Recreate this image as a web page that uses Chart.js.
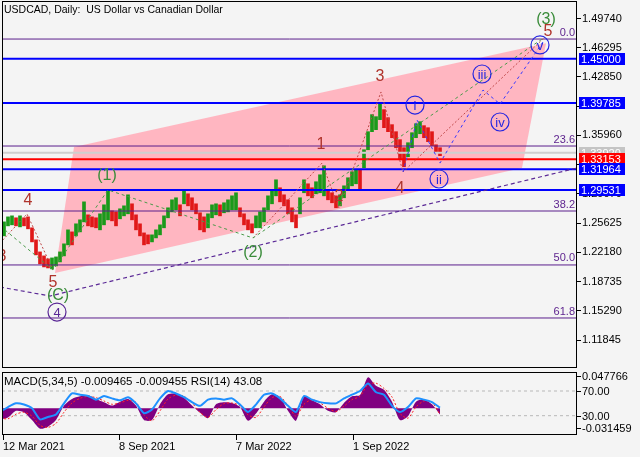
<!DOCTYPE html>
<html>
<head>
<meta charset="utf-8">
<script src="https://cdn.jsdelivr.net/npm/chart.js@4.4.1/dist/chart.umd.min.js"></script>
<style>
  html, body { margin: 0; padding: 0; background: #f4f4f4; }
  #wrap { position: relative; width: 640px; height: 457px; overflow: hidden; }
  canvas { position: absolute; left: 0; }
  #main { top: 0; }
  #osc { top: 370px; }
</style>
</head>
<body>
<div id="wrap">
  <canvas id="main" width="640" height="369"></canvas>
  <canvas id="osc" width="640" height="87"></canvas>
</div>
<script>
const FONT = '"Liberation Sans", Arial, sans-serif';

// ---- data ----
const chartTitle = 'USDCAD, Daily:  US Dollar vs Canadian Dollar';
const oscTitle = 'MACD(5,34,5) -0.009465 -0.009455 RSI(14) 43.08';

const dateLabels = ['12 Mar 2021', '8 Sep 2021', '7 Mar 2022', '1 Sep 2022'];
const dateTicks = [0.75, 29.75, 59, 88.25];
const priceTicks = [1.49740, 1.46295, 1.42850, 1.39405, 1.35960, 1.32515,
                    1.29070, 1.25625, 1.22180, 1.18735, 1.15290, 1.11845];

// price range of each ~4 day group
const highs = [1.2530,1.2577,1.2636,1.2648,1.2625,1.2648,1.2625,1.2636,1.2507,1.2365,
  1.2223,1.2176,1.2141,1.2152,1.2164,1.2223,1.2318,1.2483,1.2459,1.2554,
  1.2601,1.2813,1.2660,1.2636,1.2625,1.2672,1.2778,1.2955,1.2707,1.2695,
  1.2731,1.2766,1.2896,1.2790,1.2660,1.2554,1.2447,1.2424,1.2424,1.2483,
  1.2542,1.2648,1.2743,1.2837,1.2861,1.2778,1.2955,1.2908,1.2861,1.2790,
  1.2684,1.2636,1.2672,1.2778,1.2790,1.2778,1.2802,1.2837,1.2884,1.2920,
  1.2743,1.2672,1.2601,1.2554,1.2648,1.2695,1.2743,1.2884,1.2955,1.3073,
  1.2979,1.2896,1.2837,1.2743,1.2660,1.2861,1.3073,1.3026,1.2979,1.3050,
  1.3132,1.3238,1.2955,1.2920,1.2884,1.2896,1.3002,1.3097,1.3168,1.3191,
  1.3191,1.3427,1.3640,1.3841,1.3817,1.3978,1.3900,1.3805,1.3723,1.3640,
  1.3546,1.3451,1.3510,1.3628,1.3734,1.3758,1.3711,1.3687,1.3640,1.3486,
  1.3451];
const lows = [1.2365,1.2412,1.2530,1.2542,1.2530,1.2518,1.2530,1.2495,1.2341,1.2188,
  1.2082,1.2046,1.2034,1.2023,1.2058,1.2105,1.2176,1.2306,1.2306,1.2412,
  1.2459,1.2577,1.2530,1.2518,1.2507,1.2483,1.2542,1.2601,1.2589,1.2530,
  1.2613,1.2648,1.2672,1.2601,1.2483,1.2412,1.2306,1.2318,1.2341,1.2388,
  1.2424,1.2507,1.2625,1.2695,1.2719,1.2648,1.2790,1.2766,1.2719,1.2672,
  1.2483,1.2459,1.2507,1.2625,1.2660,1.2648,1.2684,1.2695,1.2719,1.2719,
  1.2636,1.2542,1.2483,1.2447,1.2507,1.2507,1.2577,1.2719,1.2790,1.2884,
  1.2813,1.2766,1.2672,1.2577,1.2507,1.2672,1.2920,1.2884,1.2861,1.2908,
  1.2920,1.2884,1.2837,1.2802,1.2743,1.2766,1.2861,1.2955,1.3002,1.3026,
  1.2955,1.3215,1.3427,1.3640,1.3664,1.3782,1.3687,1.3640,1.3569,1.3451,
  1.3309,1.3227,1.3345,1.3451,1.3569,1.3616,1.3569,1.3522,1.3475,1.3392,
  1.3357];

// oscillator, one value every ~8 days
const macd = [-0.017,-0.014,-0.004,-0.006,-0.018,-0.031,-0.028,-0.018,0.004,0.014,
  0.018,0.020,0.014,0.009,0.004,0.010,0.014,0.004,-0.018,-0.018,
  0.006,0.021,0.022,0.016,0.004,-0.007,-0.015,0.006,0.009,0.008,
  0.002,-0.019,-0.008,0.010,0.021,0.017,-0.004,-0.019,0.018,0.012,
  0.006,-0.004,-0.006,0.008,0.018,0.020,0.047,0.034,0.028,0.010,
  -0.018,-0.012,0.010,0.013,0.006,-0.0095];
const signal = [-0.015,-0.016,-0.009,-0.006,-0.012,-0.026,-0.029,-0.023,-0.006,0.008,
  0.015,0.018,0.016,0.011,0.006,0.008,0.012,0.009,-0.010,-0.019,
  -0.004,0.014,0.020,0.018,0.008,-0.006,-0.014,-0.002,0.007,0.008,
  0.004,-0.010,-0.014,0.002,0.016,0.018,0.004,-0.012,0.006,0.013,
  0.008,0.000,-0.005,0.003,0.013,0.018,0.036,0.038,0.030,0.017,
  -0.008,-0.015,0.002,0.011,0.009,-0.0095];
const rsi = [36,44,50,48,42,24,28,32,50,66,
  64,62,56,62,58,55,60,50,34,40,
  58,70,66,60,52,46,56,58,56,58,
  48,36,48,64,66,58,46,36,62,56,
  52,50,50,58,64,70,82,68,64,46,
  36,44,58,56,52,43];
const rsiLevels = [70, 30];
const macdTicks = [0.047766, -0.031459];

// horizontal levels
const fibValues = [1.4732, 1.3471, 1.2705, 1.2069, 1.1444];
const fibNames = ['0.0', '23.6', '38.2', '50.0', '61.8'];
const blueLevels = [1.45000, 1.39785, 1.31964, 1.29531];
const grayLevel = 1.33920;
const bidLevel = 1.33153;

// channel and wave paths (x in 4-day groups, y in price)
const channelX = [18.5, 136.5, 130.5, 13.75, 18.5];
const channelY = [1.3458, 1.4683, 1.3211, 1.1974, 1.3458];
const primaryX = [1.25, 13.25, 27, 63.25, 136.25];
const primaryY = [1.2481, 1.2010, 1.2953, 1.2387, 1.4756];
const minorAX = [0, 6.75, 13.25];
const minorAY = [1.2328, 1.2670, 1.2010];
const minorBX = [63.25, 80.5, 84.75, 95.25, 100.75, 136.25];
const minorBY = [1.2387, 1.3270, 1.2740, 1.4108, 1.3165, 1.4756];
const subX = [100.75, 104.25, 110, 120.75, 125, 135.75];
const subY = [1.3165, 1.3778, 1.3270, 1.4131, 1.3966, 1.4697];
const trendX = [0, 12.5, 144.25];
const trendY = [1.1809, 1.1703, 1.3212];

const waveText = ['(3)', '5', 'v', '3', 'i', 'iii', 'iv', 'ii', '1', '4', '2',
                  '(1)', '4', '3', '5', '(C)', '4', '(2)'];
const waveX = [136.5, 137, 135, 95, 103.75, 120.5, 125, 109.75, 80.25, 100, 84.75,
               26.75, 7, 0.5, 13.25, 14.5, 14.25, 63.25];
const waveY = [1.4956, 1.4815, 1.4662, 1.4285, 1.3954, 1.4320, 1.3754, 1.3082, 1.3483, 1.2964, 1.2870,
               1.3118, 1.2823, 1.2163, 1.1856, 1.1703, 1.1514, 1.2210];
const waveKind = ['primary', 'minor', 'sub', 'minor', 'sub', 'sub', 'sub', 'sub', 'minor', 'minor', 'minor',
                  'primary', 'minor', 'minor', 'minor', 'primary', 'cycle', 'primary'];

// ---- styles ----
const X_MIN = 0.5, X_MAX = 144.25;
const GREEN = '#1a9a1a', RED = '#e01818', BLUE = '#0000ff', PURPLE = '#5a1e8c';
const waveColors = { primary: '#3a8c3a', minor: '#b0342c', sub: '#2626e0', cycle: '#5a2896' };

function path(xs, ys, color, width, dash, order) {
  return {
    type: 'line',
    data: xs.map((x, i) => ({ x: x, y: ys[i] })),
    borderColor: color, borderWidth: width, borderDash: dash,
    pointRadius: 0, fill: false, tension: 0, order: order
  };
}

// no label padding: keeps the plot area on the exact pixel frame
function fixWidth(s) {
  s.width = 63;
  s.paddingTop = 0;
  s.paddingBottom = 0;
}

const candleColors = highs.map((h, i) => {
  if (i === 0) return RED;
  return (h + lows[i]) >= (highs[i - 1] + lows[i - 1]) ? GREEN : RED;
});

const mainSets = [
  {
    type: 'line',
    data: channelX.map((x, i) => ({ x: x, y: channelY[i] })),
    borderWidth: 0, pointRadius: 0, fill: 'shape',
    backgroundColor: '#ffb6c1', order: 20
  },
  {
    type: 'bar',
    data: highs.map((h, i) => ({ x: i, y: [lows[i], h] })),
    backgroundColor: candleColors, barThickness: 3, order: 10
  }
];
fibValues.forEach(v => mainSets.push(path([X_MIN, X_MAX], [v, v], PURPLE, 1, [], 8)));
mainSets.push(path([X_MIN, X_MAX], [grayLevel, grayLevel], '#cfcfcf', 2, [], 8));
mainSets.push(path([X_MIN, X_MAX], [bidLevel, bidLevel], '#ff0000', 2, [], 7));
blueLevels.forEach(v => mainSets.push(path([X_MIN, X_MAX], [v, v], BLUE, 2, [], 7)));
mainSets.push(path(trendX, trendY, '#5a2896', 1.2, [4, 3], 5));
mainSets.push(path(primaryX, primaryY, '#4a9a4a', 1, [3, 3], 4));
mainSets.push(path(minorAX, minorAY, '#c04a4a', 1, [2, 2], 4));
mainSets.push(path(minorBX, minorBY, '#c04a4a', 1, [2, 2], 4));
mainSets.push(path(subX, subY, '#3a3aff', 1, [3, 3], 3));

function drawFrame(chart) {
  const a = chart.chartArea, ctx = chart.ctx;
  ctx.save();
  ctx.strokeStyle = '#000';
  ctx.lineWidth = 1;
  ctx.strokeRect(a.left + 0.5, a.top + 0.5, a.right - a.left - 1, a.bottom - a.top - 1);
  ctx.restore();
}

const mainOverlay = {
  id: 'mainOverlay',
  afterDatasetsDraw(chart) {
    const { ctx, chartArea: a } = chart;
    const y = chart.scales.y, x = chart.scales.x;
    ctx.save();
    ctx.beginPath();
    ctx.rect(a.left, a.top, a.right - a.left, a.bottom - a.top);
    ctx.clip();
    ctx.font = '11px ' + FONT;
    ctx.fillStyle = PURPLE;
    ctx.textAlign = 'right';
    ctx.textBaseline = 'bottom';
    fibValues.forEach((v, i) => ctx.fillText(fibNames[i], a.right - 2, y.getPixelForValue(v) - 1));

    ctx.textAlign = 'center';
    ctx.textBaseline = 'middle';
    waveText.forEach((t, i) => {
      const px = x.getPixelForValue(waveX[i]);
      const py = y.getPixelForValue(waveY[i]);
      const kind = waveKind[i];
      const col = waveColors[kind];
      if (kind === 'sub' || kind === 'cycle') {
        ctx.font = '13px ' + FONT;
        const r = Math.max(9, ctx.measureText(t).width / 2 + 4);
        ctx.beginPath();
        ctx.strokeStyle = col;
        ctx.lineWidth = 1.2;
        ctx.ellipse(px, py, r, 9, 0, 0, Math.PI * 2);
        ctx.stroke();
        ctx.fillStyle = col;
        ctx.fillText(t, px, py + 1);
      } else {
        ctx.font = '16px ' + FONT;
        ctx.fillStyle = col;
        ctx.fillText(t, px, py);
      }
    });
    ctx.restore();
  },
  afterDraw(chart) {
    const { ctx } = chart;
    const y = chart.scales.y;
    drawFrame(chart);
    ctx.save();
    ctx.font = '10.5px ' + FONT;
    ctx.fillStyle = '#000';
    ctx.textAlign = 'left';
    ctx.textBaseline = 'middle';
    ctx.fillText(chartTitle, 4, 10);

    ctx.font = '11px ' + FONT;
    const box = (v, bg) => {
      const py = Math.round(y.getPixelForValue(v));
      ctx.fillStyle = bg;
      ctx.fillRect(579, py - 6, 46, 12);
      ctx.fillStyle = '#fff';
      ctx.fillText(v.toFixed(5), 581, py + 0.5);
    };
    box(grayLevel, '#c4c4c4');
    box(bidLevel, '#ff0000');
    blueLevels.forEach(v => box(v, BLUE));
    ctx.restore();
  }
};

new Chart(document.getElementById('main'), {
  type: 'bar',
  data: { datasets: mainSets },
  options: {
    responsive: false,
    animation: false,
    devicePixelRatio: 1,
    layout: { padding: { left: 2, top: 1, bottom: 1, right: 0 } },
    plugins: { legend: { display: false }, tooltip: { enabled: false } },
    scales: {
      x: { type: 'linear', min: X_MIN, max: X_MAX, offset: false, display: false },
      y: {
        position: 'right',
        min: 1.08546, max: 1.51803,
        afterBuildTicks: s => { s.ticks = priceTicks.map(v => ({ value: v })); },
        afterFit: fixWidth,
        border: { display: false },
        grid: { drawOnChartArea: false, tickLength: 4, color: '#000' },
        ticks: {
          autoSkip: false, padding: 1, color: '#000',
          font: { size: 11, family: FONT },
          callback: v => Number(v).toFixed(5)
        }
      }
    }
  },
  plugins: [mainOverlay]
});

// ---- oscillator panel ----
const oscSets = [
  {
    data: macd.map((v, j) => ({ x: 2 * j, y: v })),
    yAxisID: 'y', fill: 'origin', backgroundColor: '#800080',
    borderWidth: 0, pointRadius: 0, tension: 0.25, order: 5
  },
  {
    data: signal.map((v, j) => ({ x: 2 * j, y: v })),
    yAxisID: 'y', borderColor: '#ff2020', borderWidth: 1, borderDash: [2, 2],
    pointRadius: 0, fill: false, tension: 0.25, order: 4
  },
  {
    data: rsi.map((v, j) => ({ x: 2 * j, y: v })),
    yAxisID: 'yRsi', borderColor: '#1e90ff', borderWidth: 2,
    pointRadius: 0, fill: false, tension: 0.2, order: 2
  }
];
rsiLevels.forEach(v => oscSets.push({
  data: [{ x: X_MIN, y: v }, { x: X_MAX, y: v }],
  yAxisID: 'yRsi', borderColor: '#b8b8b8', borderWidth: 1, borderDash: [3, 3],
  pointRadius: 0, fill: false, order: 8
}));

const oscOverlay = {
  id: 'oscOverlay',
  afterDraw(chart) {
    const { ctx, chartArea: a } = chart;
    const r = chart.scales.yRsi;
    drawFrame(chart);
    ctx.save();
    ctx.fillStyle = '#000';
    ctx.strokeStyle = '#000';
    ctx.textAlign = 'left';
    ctx.textBaseline = 'middle';
    ctx.font = '11.5px ' + FONT;
    ctx.fillText(oscTitle, 4, 12);
    ctx.font = '11px ' + FONT;
    rsiLevels.forEach(v => {
      const py = Math.round(r.getPixelForValue(v)) + 0.5;
      ctx.beginPath();
      ctx.moveTo(a.right, py);
      ctx.lineTo(a.right + 4, py);
      ctx.stroke();
      ctx.fillText(v.toFixed(2), a.right + 5, py);
    });
    ctx.restore();
  }
};

new Chart(document.getElementById('osc'), {
  type: 'line',
  data: { datasets: oscSets },
  options: {
    responsive: false,
    animation: false,
    devicePixelRatio: 1,
    layout: { padding: { left: 2, top: 2, bottom: 0, right: 0 } },
    plugins: { legend: { display: false }, tooltip: { enabled: false } },
    scales: {
      x: {
        type: 'linear', min: X_MIN, max: X_MAX, offset: false, position: 'bottom',
        afterBuildTicks: s => { s.ticks = dateTicks.map(v => ({ value: v })); },
        afterFit: s => { s.height = 22; s.paddingLeft = 0; s.paddingRight = 0; },
        border: { display: false },
        grid: { drawOnChartArea: false, tickLength: 5, color: '#000' },
        ticks: {
          autoSkip: false, maxRotation: 0, align: 'start', padding: 0, color: '#000',
          font: { size: 11, family: FONT },
          callback: v => dateLabels[dateTicks.indexOf(v)]
        }
      },
      y: {
        position: 'right',
        min: -0.04055, max: 0.05489,
        afterBuildTicks: s => { s.ticks = macdTicks.map(v => ({ value: v })); },
        afterFit: fixWidth,
        border: { display: false },
        grid: { drawOnChartArea: false, tickLength: 4, color: '#000' },
        ticks: {
          autoSkip: false, padding: 1, color: '#000',
          font: { size: 11, family: FONT },
          callback: v => Number(v).toFixed(6)
        }
      },
      yRsi: { axis: 'y', display: false, min: -1.3, max: 100.8 }
    }
  },
  plugins: [oscOverlay]
});
</script>
</body>
</html>
